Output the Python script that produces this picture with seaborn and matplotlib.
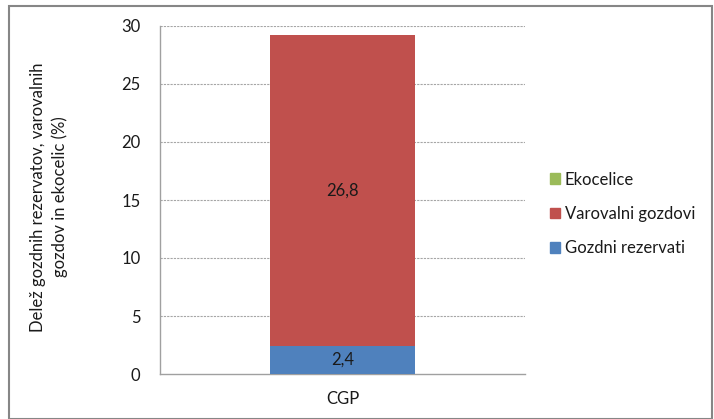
import matplotlib
matplotlib.use("Agg")
import matplotlib.pyplot as plt
import matplotlib.patches as mpatches
import seaborn as sns
import pandas as pd

sns.set_theme(style="white")
plt.rcParams["font.family"] = ["Lato", "DejaVu Sans"]

categories = ["CGP"]
gozdni_rezervati = [2.4]
varovalni_gozdovi = [26.8]
ekocelice = [0.0]
series_names = ["Gozdni rezervati", "Varovalni gozdovi", "Ekocelice"]
colors = ["#4F81BD", "#C0504D", "#9BBB59"]
y_ticks = [0, 5, 10, 15, 20, 25, 30]
y_label_lines = ["Delež gozdnih rezervatov, varovalnih", "gozdov in ekocelic (%)"]

df = pd.DataFrame({
    "kategorija": categories,
    "Gozdni rezervati": gozdni_rezervati,
    "Varovalni gozdovi": varovalni_gozdovi,
    "Ekocelice": ekocelice,
})

fig = plt.figure(figsize=(7.14, 4.19), dpi=100)
fig.patches.append(mpatches.Rectangle((9 / 714, 0.0), 703 / 714, 1 - 6 / 419,
                                      transform=fig.transFigure, fill=False,
                                      edgecolor="#868686", linewidth=1.5))
ax = fig.add_axes([160 / 714, 1 - 374 / 419, 365 / 714, 348 / 419])

# stacked bars: each series drawn as its cumulative total, lower series on top
bottom = [0.0] * len(categories)
for name, color in zip(series_names, colors):
    vals = df[name].tolist()
    sns.barplot(x=df["kategorija"], y=[b + v for b, v in zip(bottom, vals)],
                color=color, width=0.397, ax=ax, zorder=3 - series_names.index(name),
                saturation=1, linewidth=0)
    bottom = [b + v for b, v in zip(bottom, vals)]

# value labels in the middle of each segment
base = 0.0
for name in series_names:
    v = df[name].iloc[0]
    if v > 0:
        ax.text(0, base + v / 2, f"{v:.1f}".replace(".", ","), ha="center",
                va="center", fontsize=12, color="#1a1a1a", zorder=10)
    base += v

ax.set_xlim(-0.5, 0.5)
ax.set_ylim(0, 30)
ax.set_yticks(y_ticks)
ax.set_yticklabels([str(t) for t in y_ticks], fontsize=12, color="#1a1a1a")
ax.set_xticks([0])
ax.set_xticklabels(categories, fontsize=12, color="#1a1a1a")
ax.set_xticks([-0.5, 0.5], minor=True)
ax.tick_params(axis="x", which="major", length=0, pad=12)
ax.tick_params(axis="x", which="minor", length=5, color="#a0a0a0", width=1, direction="out")
ax.tick_params(axis="y", length=5, color="#a0a0a0", width=1, direction="out", pad=9)
ax.set_xlabel("")
ax.set_ylabel("")

for y in y_ticks[1:]:
    ax.axhline(y, color="#a6a6a6", linestyle=(0, (2, 1)), linewidth=0.8, zorder=0)

for s in ["top", "right"]:
    ax.spines[s].set_visible(False)
for s in ["left", "bottom"]:
    ax.spines[s].set_color("#a0a0a0")
    ax.spines[s].set_linewidth(1)

# two-line vertical axis title, each line centred on the plot height
for line, xpix in zip(y_label_lines, [38, 60]):
    fig.text(xpix / 714, 1 - 197 / 419, line, rotation=90, ha="center", va="center",
             fontsize=12, color="#1a1a1a")

handles = [mpatches.Patch(color=c, label=n) for n, c in zip(series_names, colors)][::-1]
fig.legend(handles=handles, loc="center left", bbox_to_anchor=(535 / 714, 1 - 214 / 419),
           frameon=False, fontsize=12, handlelength=0.6, handleheight=0.6,
           handletextpad=0.3, labelspacing=1.1, labelcolor="#1a1a1a")

fig.savefig("out.png", dpi=100)
